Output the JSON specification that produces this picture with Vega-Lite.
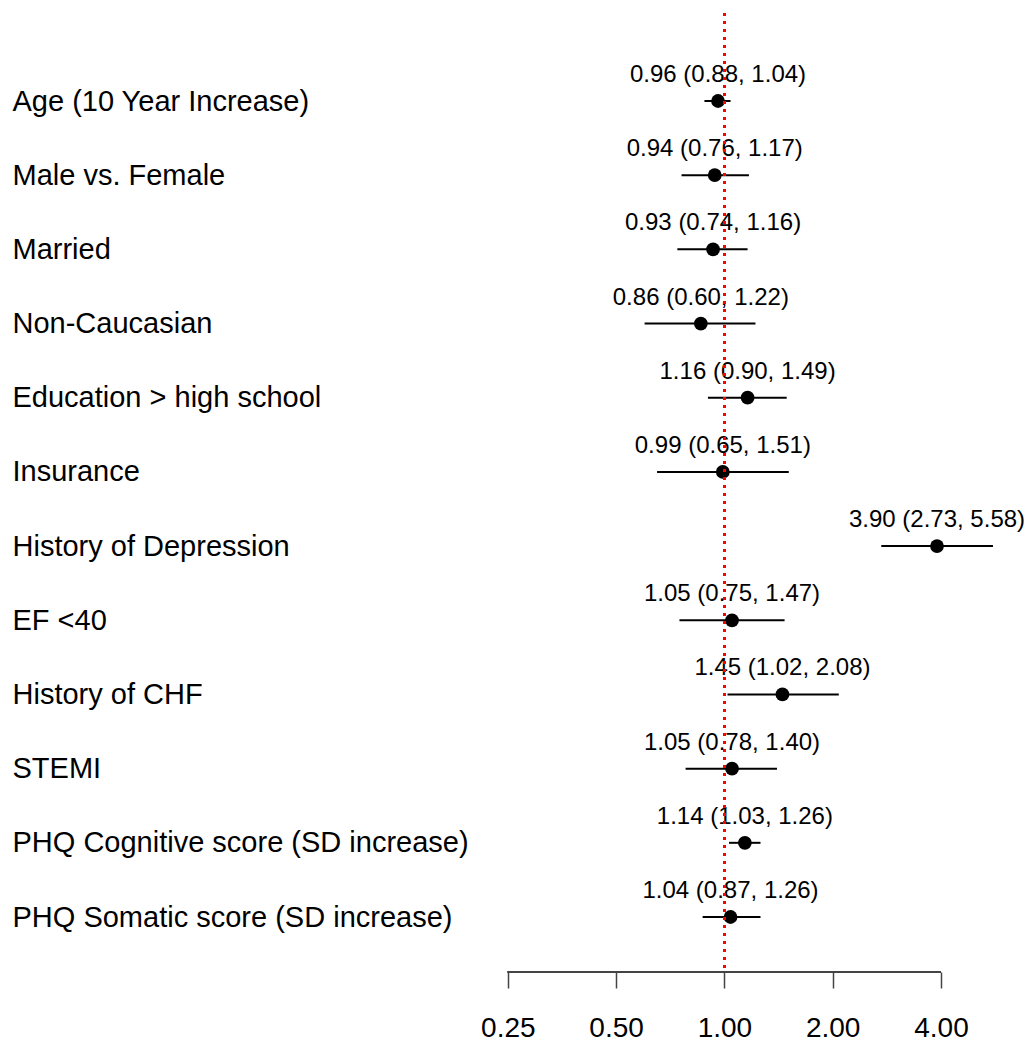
{
  "$schema": "https://vega.github.io/schema/vega-lite/v6.json",
  "width": 1032,
  "height": 959,
  "autosize": {"type": "none"},
  "padding": {"left": 0, "top": 13, "right": 0, "bottom": 78},
  "background": "white",
  "config": {"view": {"stroke": null}, "font": "Liberation Sans"},
  "data": {
    "values": [
      {"label": "Age (10 Year Increase)", "est": 0.96, "lo": 0.88, "hi": 1.04, "txt": "0.96 (0.88, 1.04)"},
      {"label": "Male vs. Female", "est": 0.94, "lo": 0.76, "hi": 1.17, "txt": "0.94 (0.76, 1.17)"},
      {"label": "Married", "est": 0.93, "lo": 0.74, "hi": 1.16, "txt": "0.93 (0.74, 1.16)"},
      {"label": "Non-Caucasian", "est": 0.86, "lo": 0.60, "hi": 1.22, "txt": "0.86 (0.60, 1.22)"},
      {"label": "Education > high school", "est": 1.16, "lo": 0.90, "hi": 1.49, "txt": "1.16 (0.90, 1.49)"},
      {"label": "Insurance", "est": 0.99, "lo": 0.65, "hi": 1.51, "txt": "0.99 (0.65, 1.51)"},
      {"label": "History of Depression", "est": 3.90, "lo": 2.73, "hi": 5.58, "txt": "3.90 (2.73, 5.58)"},
      {"label": "EF <40", "est": 1.05, "lo": 0.75, "hi": 1.47, "txt": "1.05 (0.75, 1.47)"},
      {"label": "History of CHF", "est": 1.45, "lo": 1.02, "hi": 2.08, "txt": "1.45 (1.02, 2.08)"},
      {"label": "STEMI", "est": 1.05, "lo": 0.78, "hi": 1.40, "txt": "1.05 (0.78, 1.40)"},
      {"label": "PHQ Cognitive score (SD increase)", "est": 1.14, "lo": 1.03, "hi": 1.26, "txt": "1.14 (1.03, 1.26)"},
      {"label": "PHQ Somatic score (SD increase)", "est": 1.04, "lo": 0.87, "hi": 1.26, "txt": "1.04 (0.87, 1.26)"}
    ]
  },
  "encoding": {
    "y": {
      "field": "label",
      "type": "nominal",
      "sort": null,
      "title": null,
      "scale": {"type": "point", "range": [88, 904], "padding": 0},
      "axis": {
        "orient": "left",
        "domain": false,
        "ticks": false,
        "tickSize": 0,
        "labelAlign": "left",
        "labelBaseline": "middle",
        "labelPadding": -12,
        "labelFontSize": 29,
        "labelColor": "black",
        "labelLimit": 0,
        "grid": false
      }
    }
  },
  "layer": [
    {
      "mark": {"type": "rule", "color": "black", "strokeWidth": 2},
      "encoding": {
        "x": {
          "field": "lo",
          "type": "quantitative",
          "title": null,
          "scale": {"type": "log", "domain": [0.009686, 7.164], "nice": false, "zero": false},
          "axis": {
            "values": [0.25, 0.5, 1, 2, 4],
            "format": ".2f",
            "domain": false,
            "grid": false,
            "tickSize": 16,
            "tickColor": "#444",
            "tickWidth": 1.5,
            "labelFontSize": 28,
            "labelColor": "black",
            "labelBaseline": "middle",
            "labelPadding": 40
          }
        },
        "x2": {"field": "hi"}
      }
    },
    {
      "mark": {"type": "circle", "color": "black", "opacity": 1, "size": 190},
      "encoding": {"x": {"field": "est", "type": "quantitative"}}
    },
    {
      "mark": {"type": "text", "color": "black", "fontSize": 24, "dy": -26, "align": "center", "baseline": "middle"},
      "encoding": {"x": {"field": "est", "type": "quantitative"}, "text": {"field": "txt"}}
    },
    {
      "mark": {"type": "rule", "color": "#444", "strokeWidth": 1.5},
      "encoding": {"x": {"datum": 0.25}, "x2": {"datum": 4}, "y": {"value": "height"}}
    },
    {
      "mark": {"type": "rule", "color": "#ff0000", "strokeWidth": 2, "strokeDash": [3, 5]},
      "encoding": {"x": {"datum": 1}, "y": {"value": 0}, "y2": {"value": "height"}}
    }
  ]
}
